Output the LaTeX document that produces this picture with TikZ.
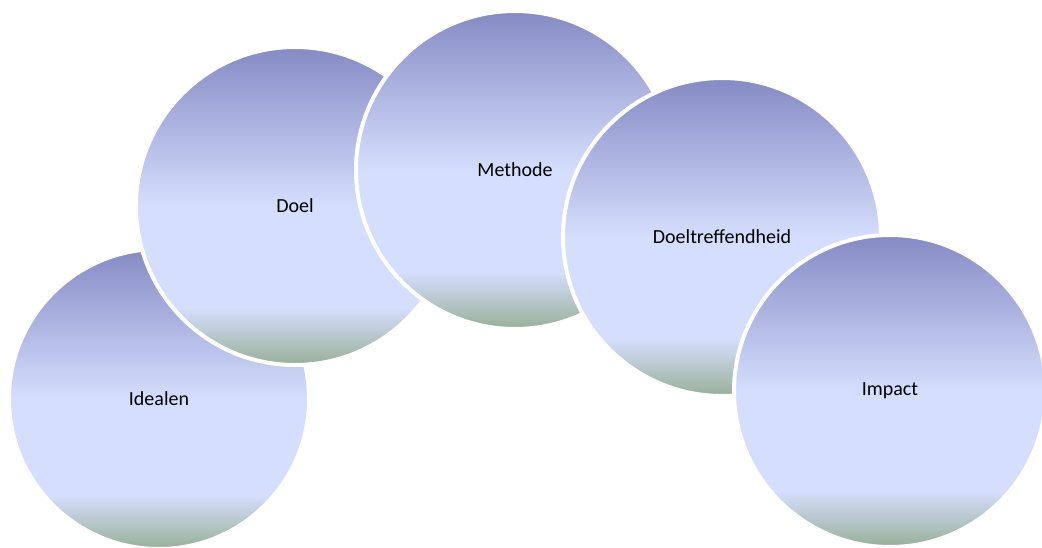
\documentclass[tikz,border=0pt]{standalone}
\usepackage{fontspec}
\setmainfont{Carlito}
\definecolor{bolpaars}{RGB}{134,138,196}
\definecolor{bollicht}{RGB}{213,222,253}
\definecolor{bolgroen}{RGB}{152,176,152}
\pgfdeclareverticalshading{bolkleur}{100bp}{%
  color(0bp)=(bolgroen); color(25bp)=(bolgroen); color(34bp)=(bollicht);
  color(50bp)=(bollicht); color(75bp)=(bolpaars); color(100bp)=(bolpaars)}
\tikzstyle{bol} = [circle, inner sep=0pt, shade, shading=bolkleur,
  draw=white, line width=4pt, font=\fontsize{20}{24}\selectfont]

\begin{document}
\begin{tikzpicture}[x=1pt, y=-1pt]
\useasboundingbox (0,0) rectangle (1042,547);
% van links naar rechts, elke bol over de vorige
\node[bol, minimum size=300pt] (idealen) at (159,399) {Idealen};
\node[bol, minimum size=318pt] (doel) at (295,206) {Doel};
\node[bol, minimum size=318pt] (methode) at (515,170) {Methode};
\node[bol, minimum size=318pt] (treffend) at (722,237) {Doeltreffendheid};
\node[bol, minimum size=312pt] (impact) at (890,391) {Impact};
\end{tikzpicture}
\end{document}
